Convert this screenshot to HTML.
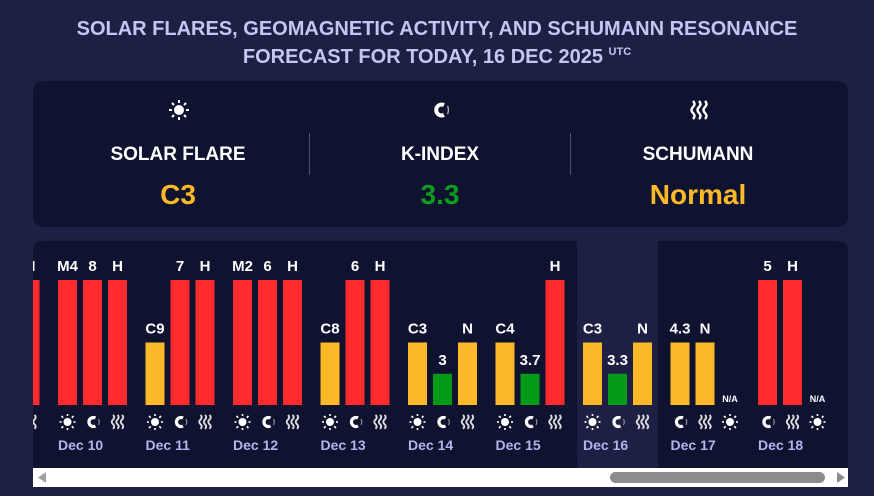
<!DOCTYPE html>
<html><head><meta charset="utf-8"><style>
html,body{margin:0;padding:0;width:874px;height:496px;background:#1e2043;font-family:"Liberation Sans",sans-serif;overflow:hidden}
.title{position:absolute;left:0;width:874px;text-align:center;color:#c3c6f3;font-weight:bold;font-size:20px;line-height:23px;top:18px}
.title sup{font-size:11px;vertical-align:8px}
.card{position:absolute;left:33px;top:81px;width:815px;height:146px;background:#101330;border-radius:10px}
.col{position:absolute;top:0;width:260px;text-align:center}
.lab{position:absolute;top:63px;width:100%;color:#fff;font-weight:bold;font-size:19px}
.val{position:absolute;top:98px;width:100%;font-weight:bold;font-size:28px}
.div{position:absolute;top:52px;width:1px;height:42px;background:#4a4e78}
</style></head><body>
<div class="title">SOLAR FLARES, GEOMAGNETIC ACTIVITY, AND SCHUMANN RESONANCE<br>FORECAST FOR TODAY, 16 DEC 2025 <sup>UTC</sup></div>
<div class="card">
 <div class="col" style="left:15px">
  <svg style="position:absolute;left:120px;top:18px" width="22" height="22" viewBox="-11 -11 22 22"><circle r="5" fill="#fff"/><g stroke="#fff" stroke-width="2"><line x1="0" y1="-10" x2="0" y2="-7"/><line x1="0" y1="7" x2="0" y2="10"/><line x1="-10" y1="0" x2="-7" y2="0"/><line x1="7" y1="0" x2="10" y2="0"/><line x1="-7" y1="-7" x2="-5" y2="-5"/><line x1="5" y1="5" x2="7" y2="7"/><line x1="-7" y1="7" x2="-5" y2="5"/><line x1="5" y1="-5" x2="7" y2="-7"/></g></svg>
  <div class="lab">SOLAR FLARE</div>
  <div class="val" style="color:#fbb928">C3</div></div>
 <div class="div" style="left:276px"></div>
 <div class="col" style="left:277px">
  <svg style="position:absolute;left:119px;top:18px" width="22" height="22" viewBox="-11 -11 22 22"><path d="M4,-5 A5.5,5.5 0 1 0 4,5" fill="none" stroke="#fff" stroke-width="4"/><path d="M7.5,-4 Q9.5,0 7.5,4" fill="none" stroke="#aaa" stroke-width="1.4"/></svg>
  <div class="lab">K-INDEX</div>
  <div class="val" style="color:#0c9c1c">3.3</div></div>
 <div class="div" style="left:537px"></div>
 <div class="col" style="left:535px">
  <svg style="position:absolute;left:120px;top:18px" width="22" height="22" viewBox="-11 -11 22 22"><g fill="none" stroke="#fff" stroke-width="2.4"><path d="M-6,-9 q3,3 0,6 q-3,3 0,6 q3,3 0,6"/><path d="M0,-9 q3,3 0,6 q-3,3 0,6 q3,3 0,6"/><path d="M6,-9 q3,3 0,6 q-3,3 0,6 q3,3 0,6"/></g></svg>
  <div class="lab">SCHUMANN</div>
  <div class="val" style="color:#fbb928">Normal</div></div>
</div>
<svg id="chart" style="position:absolute;left:0;top:0" width="874" height="496">
 <defs><clipPath id="cp"><rect x="33" y="241" width="815" height="227"/></clipPath></defs>
 <path d="M43,241 H838 Q848,241 848,251 V468 H33 V251 Q33,241 43,241Z" fill="#101330"/>
 <rect x="577" y="241" width="81" height="227" fill="#1e2043"/>
 <g id="bars" clip-path="url(#cp)"></g>
 <rect x="33" y="468" width="815" height="19" fill="#fff"/>
 <rect x="610" y="472" width="215" height="11" rx="5.5" fill="#8c8c8c"/>
 <path d="M38,477.5 L46,472 L46,483Z" fill="#a0a0a0"/>
 <path d="M845,477.5 L837,472 L837,483Z" fill="#8c8c8c"/>
</svg>
<script>
const days=["Dec 9","Dec 10","Dec 11","Dec 12","Dec 13","Dec 14","Dec 15","Dec 16","Dec 17","Dec 18"];
const barTypes=[["sun","mag","wave"],["sun","mag","wave"],["sun","mag","wave"],["sun","mag","wave"],["sun","mag","wave"],["sun","mag","wave"],["sun","mag","wave"],["sun","mag","wave"],["mag","wave","sun"],["mag","wave","sun"]];
const barLabels=[["","","H"],["M4","8","H"],["C9","7","H"],["M2","6","H"],["C8","6","H"],["C3","3","N"],["C4","3.7","H"],["C3","3.3","N"],["4.3","N","N/A"],["5","H","N/A"]];
const barLevels=[[4,4,4],[4,4,4],[2,4,4],[4,4,4],[2,4,4],[2,1,2],[2,1,4],[2,1,2],[2,2,0],[4,4,0]];
const colorFor={4:"#fd2b2d",2:"#fbb928",1:"#029a17"};
const x0=-29.5,dayStep=87.5,barStep=25,barW=19,base=405,maxH=125,maxV=4;
const xScale=(d,b)=>x0+d*dayStep+b*barStep;
const yScale=v=>base-v/maxV*maxH;
const NS="http://www.w3.org/2000/svg",g=document.getElementById("bars");
function mk(t,a){const e=document.createElementNS(NS,t);for(const k in a)e.setAttribute(k,a[k]);g.appendChild(e);return e;}
function icon(type,cx,cy){let e=document.createElementNS(NS,"g");
 if(type==="sun"){e.innerHTML='<circle r="4" fill="#fff"/><g stroke="#fff" stroke-width="1.6"><line y1="-8" y2="-6"/><line y1="6" y2="8"/><line x1="-8" x2="-6"/><line x1="6" x2="8"/><line x1="-6" y1="-6" x2="-4.3" y2="-4.3"/><line x1="4.3" y1="4.3" x2="6" y2="6"/><line x1="-6" y1="6" x2="-4.3" y2="4.3"/><line x1="4.3" y1="-4.3" x2="6" y2="-6"/></g>';}
 else if(type==="mag"){e.innerHTML='<path d="M3,-4 A4.5,4.5 0 1 0 3,4" fill="none" stroke="#fff" stroke-width="3.2"/><path d="M6,-3 Q7.5,0 6,3" fill="none" stroke="#999" stroke-width="1.1"/>';}
 else{e.innerHTML='<g fill="none" stroke="#ddd" stroke-width="1.9"><path d="M-4.5,-7 q2.5,2.3 0,4.6 q-2.5,2.3 0,4.6 q2.5,2.3 0,4.6"/><path d="M0,-7 q2.5,2.3 0,4.6 q-2.5,2.3 0,4.6 q2.5,2.3 0,4.6"/><path d="M4.5,-7 q2.5,2.3 0,4.6 q-2.5,2.3 0,4.6 q2.5,2.3 0,4.6"/></g>';}
 e.setAttribute("transform",`translate(${cx},${cy})`);g.appendChild(e);return e;}
days.forEach((day,d)=>{
 for(let b=0;b<3;b++){
  const x=xScale(d,b),v=barLevels[d][b],lab=barLabels[d][b],cx=x+barW/2;
  if(v>0){const r=mk("rect",{x:x,y:yScale(v),width:barW,height:base-yScale(v),fill:colorFor[v]});
   
   }
  if(lab){const t=mk("text",{x:cx,y:v>0?yScale(v)-9:base-3,"text-anchor":"middle",fill:"#fff","font-weight":"bold","font-size":v>0?15:9});
   t.textContent=lab;
   
   }
  const ic=icon(barTypes[d][b],cx,422);
  
  
 }
 const dt=mk("text",{x:xScale(d,0),y:450,fill:"#b0b5ee","font-weight":"bold","font-size":14});
 dt.textContent=day;
 
 
});
</script>
</body></html>
